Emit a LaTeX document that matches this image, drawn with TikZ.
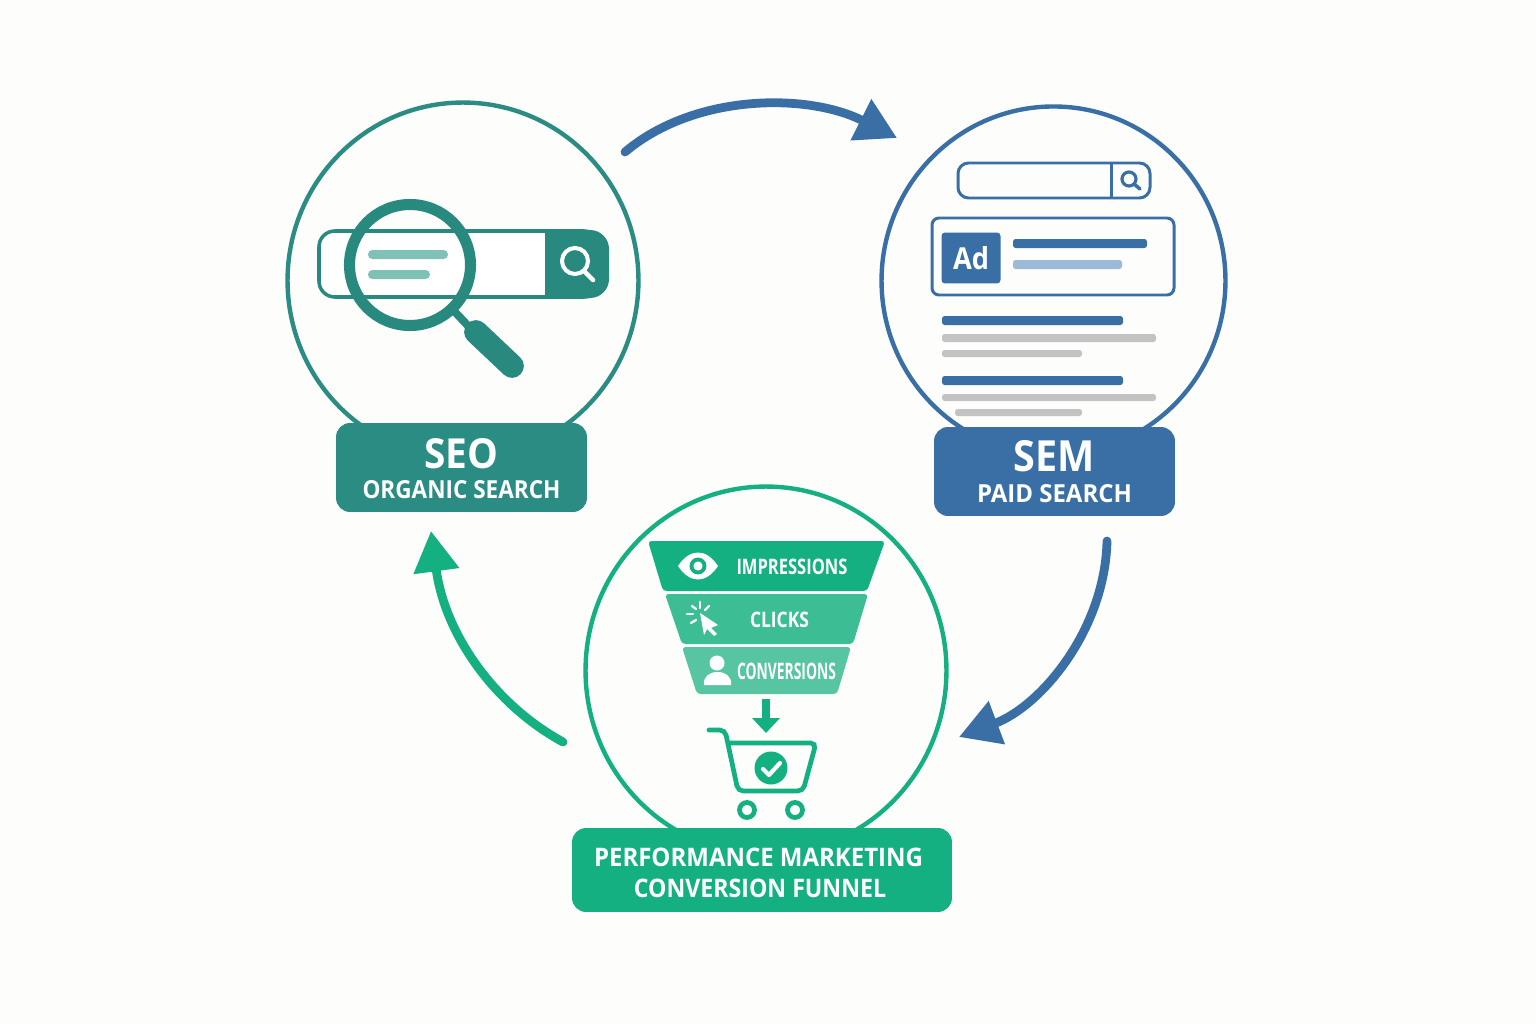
\documentclass[tikz,border=0pt]{standalone}
\usepackage{fontspec}
\usepackage{graphicx}
\setmainfont{Open Sans}
\usetikzlibrary{arrows.meta, shapes.geometric}

\definecolor{pagebg}{HTML}{FDFDFB}
\definecolor{seoteal}{HTML}{2B8C84}
\definecolor{seodark}{HTML}{28897F}
\definecolor{seolight}{HTML}{7FC1B6}
\definecolor{semblue}{HTML}{3A6FA6}
\definecolor{semlight}{HTML}{9CBAD8}
\definecolor{resultgray}{HTML}{C3C3C3}
\definecolor{perfgreen}{HTML}{14B082}
\definecolor{clickgreen}{HTML}{3DBD94}
\definecolor{convgreen}{HTML}{58C5A2}

% text squeezed to a measured width and cap height
\newcommand{\fittext}[3]{\resizebox{#1}{#2}{#3}}

\tikzset{
    ring/.style={ellipse, draw=#1, line width=2.5pt, inner sep=0pt},
    tag/.style={rectangle, rounded corners=8pt, fill=#1, text=white, align=center,
        inner sep=0pt, font=\fontsize{1}{1}\selectfont\bfseries},
    flow/.style={line width=5pt, line cap=round, draw=#1,
        -{Triangle[length=0.81cm, width=0.88cm, fill=#1]}},
    bar/.style={fill=#1, rounded corners=1.5pt},
    stagetext/.style={text=white, inner sep=0pt, font=\bfseries},
    thinline/.style={draw=#1, line width=1.7pt}
}

\begin{document}
\begin{tikzpicture}[x=0.02cm, y=-0.02cm]
    % Page
    \fill[pagebg] (0,0) rectangle (1536,1024);
    \useasboundingbox (0,0) rectangle (1536,1024);

    % Circles
    \node[ring=seoteal, minimum width=7.02cm, minimum height=7.12cm] (seocircle) at (463,280.5) {};
    \node[ring=semblue, minimum width=6.88cm, minimum height=6.97cm] (semcircle) at (1053.5,280.7) {};
    \node[ring=perfgreen, minimum width=7.22cm, minimum height=7.36cm] (perfcircle) at (766,670.5) {};

    % Arrows
    \coordinate (seoout) at (625,152);
    \coordinate (semin) at (897,138);
    \coordinate (semout) at (1107,541);
    \coordinate (perfin) at (959,737);
    \coordinate (perfout) at (563,742);
    \coordinate (seoin) at (431,531);
    \draw[flow=semblue] (seoout) .. controls (695,93) and (808,93) .. (semin);
    \draw[flow=semblue] (semout) .. controls (1105,630) and (1041,706) .. (perfin);
    \draw[flow=perfgreen] (perfout) .. controls (495,705) and (445,635) .. (seoin);

    % SEO search bar
    \draw[thinline=seodark, fill=white, line width=2pt, rounded corners=9pt] (319,231) rectangle (600,297);
    \fill[seodark, rounded corners=0pt] (545,230) -- (590,230)
        arc[start angle=-90, end angle=0, radius=19] -- (609,279)
        arc[start angle=0, end angle=90, radius=19] -- (545,298) -- cycle;
    \draw[white, line width=2.3pt] (575,261) circle [radius=13];
    \draw[white, line width=2.6pt, line cap=round] (584,271) -- (593,280);

    % SEO lens
    \fill[bar=seolight, rounded corners=2.5pt] (368,250) rectangle (448,259);
    \fill[bar=seolight, rounded corners=2.5pt] (368,270) rectangle (430,279);
    \draw[seodark, line width=6.3pt] (410,265) circle [radius=60.5];
    \draw[seodark, line width=4.5pt] (455,312) -- (472,330);
    \draw[seodark, line width=13.5pt, line cap=round] (476,332) -- (512,366);

    % SEM search bar
    \draw[thinline=semblue, rounded corners=6pt] (958,163) rectangle (1150,198);
    \draw[thinline=semblue] (1111,163) -- (1111,198);
    \draw[semblue, line width=1.8pt] (1129,179) circle [radius=7];
    \draw[semblue, line width=2pt, line cap=round] (1134,184) -- (1140,189);

    % SEM ad
    \draw[thinline=semblue, rounded corners=4pt] (932,218) rectangle (1174,295);
    \node[rectangle, fill=semblue, rounded corners=2pt, minimum width=1.18cm, minimum height=1.02cm,
        inner sep=0pt, text=white, font=\bfseries] (adbadge) at (971,258) {\fittext{0.72cm}{0.46cm}{Ad}};
    \fill[bar=semblue] (1013,239) rectangle (1147,248);
    \fill[bar=semlight] (1013,260) rectangle (1122,269);

    % SEM results
    \fill[bar=semblue] (942,316) rectangle (1123,325);
    \fill[bar=resultgray] (942,334) rectangle (1156,342);
    \fill[bar=resultgray] (942,350) rectangle (1082,357);
    \fill[bar=semblue] (942,376) rectangle (1123,385);
    \fill[bar=resultgray] (942,394) rectangle (1156,401);
    \fill[bar=resultgray] (955,409) rectangle (1082,416);

    % Funnel
    \fill[perfgreen, rounded corners=2pt] (648,541) -- (885,541) -- (867,591) -- (663,591) -- cycle;
    \fill[clickgreen, rounded corners=2pt] (665,594) -- (868,594) -- (853,644) -- (682,644) -- cycle;
    \fill[convgreen, rounded corners=2pt] (682,647) -- (851,647) -- (837,694) -- (697,694) -- cycle;
    \node[stagetext] (impressions) at (792,567) {\fittext{2.22cm}{0.31cm}{IMPRESSIONS}};
    \node[stagetext] (clicks) at (779.5,619.5) {\fittext{1.18cm}{0.31cm}{CLICKS}};
    \node[stagetext] (conversions) at (786.5,671) {\fittext{1.98cm}{0.33cm}{CONVERSIONS}};

    % Eye
    \fill[white] (678,566) .. controls (690,548) and (706,548) .. (718,566)
        .. controls (706,584) and (690,584) .. cycle;
    \draw[perfgreen, line width=2.2pt, fill=white] (698,566) circle [radius=6.5];

    % Cursor
    \fill[white] (700,613) -- (718,625) -- (711,628) -- (717,634) -- (714,636) -- (707,629) -- (704,635) -- cycle;
    \draw[white, line width=1.3pt, line cap=round] (700,602) -- (700,608);
    \draw[white, line width=1.3pt, line cap=round] (709,606) -- (705,610);
    \draw[white, line width=1.3pt, line cap=round] (692,606) -- (696,609);
    \draw[white, line width=1.3pt, line cap=round] (687,614) -- (693,614);
    \draw[white, line width=1.3pt, line cap=round] (691,623) -- (696,620);

    % Person
    \fill[white] (717,663) circle [radius=7.5];
    \fill[white] (704,685) .. controls (703,676) and (710,672) .. (717.5,672)
        .. controls (725,672) and (732,676) .. (731,685) -- cycle;

    % Cart
    \coordinate (funnelend) at (766,699);
    \coordinate (cartin) at (766,733);
    \draw[perfgreen, line width=4pt, -{Triangle[length=0.3cm, width=0.54cm]}] (funnelend) -- (cartin);
    \draw[perfgreen, line width=2.7pt, line cap=round, rounded corners=3pt]
        (709,730) -- (725,730) -- (738,791) -- (803,791) -- (816,743) -- (730,743);
    \fill[perfgreen] (771,768) circle [radius=16.5];
    \draw[white, line width=2.4pt, line cap=round, line join=round] (763,769) -- (769,775) -- (780,763);
    \draw[perfgreen, line width=2.7pt] (747,810) circle [radius=7.5];
    \draw[perfgreen, line width=2.7pt] (795,810) circle [radius=7.5];

    % Labels
    \node[tag=seoteal, minimum width=5.02cm, minimum height=1.78cm] (seolabel) at (461.5,467.5)
        {\rule{0pt}{18.2pt}\fittext{1.48cm}{0.6cm}{SEO}\\[6pt]\fittext{3.96cm}{0.36cm}{ORGANIC SEARCH}};
    \node[tag=semblue, minimum width=4.82cm, minimum height=1.78cm] (semlabel) at (1054.5,471.5)
        {\fittext{1.62cm}{0.62cm}{SEM}\\[6pt]\fittext{3.1cm}{0.36cm}{PAID SEARCH}};
    \node[tag=perfgreen, minimum width=7.6cm, minimum height=1.68cm] (perflabel) at (762,870)
        {\rule{0pt}{13.9pt}\fittext{6.58cm}{0.37cm}{PERFORMANCE MARKETING}\hspace*{0.14cm}\\[6pt]\fittext{5.04cm}{0.37cm}{CONVERSION FUNNEL}\hspace*{0.08cm}};
\end{tikzpicture}
\end{document}
